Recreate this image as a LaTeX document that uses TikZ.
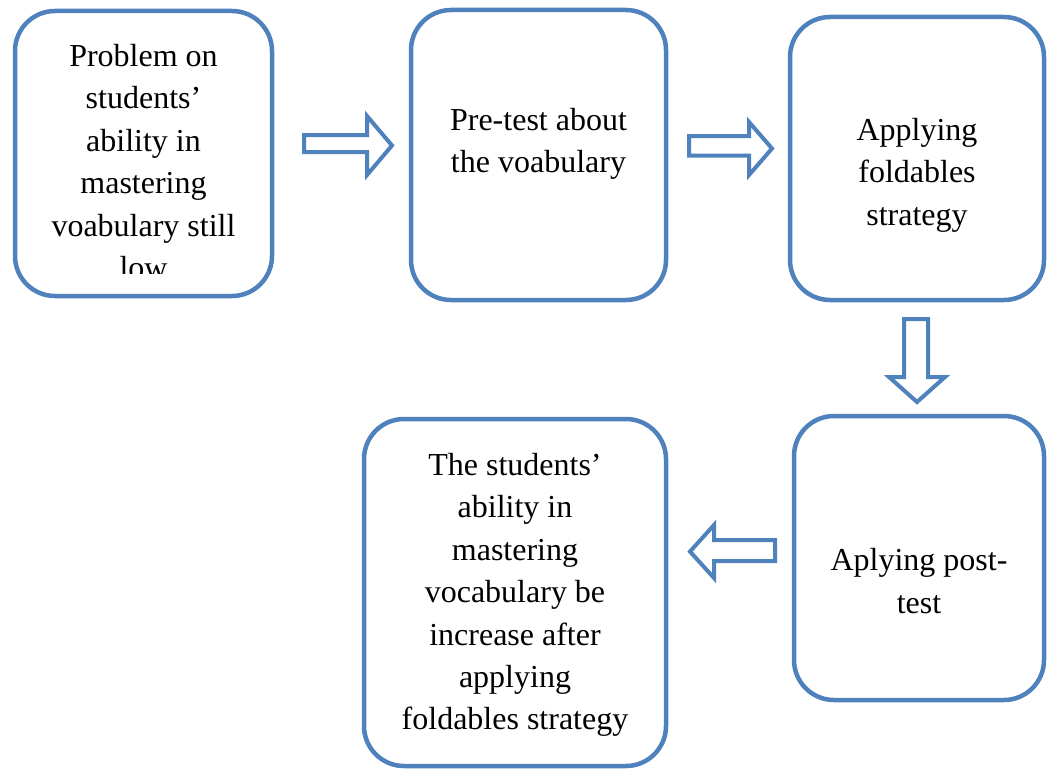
\documentclass[tikz,border=0pt]{standalone}
\usepackage{fontspec}
\setmainfont{Liberation Serif}
\definecolor{boxblue}{HTML}{4F81BD}
\begin{document}
\begin{tikzpicture}[x=1pt,y=-1pt,
  stepbox/.style={draw=boxblue, line width=4.5pt, rounded corners=40pt, fill=white, inner sep=0pt},
  label/.style={font=\fontsize{32}{42.4}\selectfont, align=center, inner sep=0pt},
  blockarrow/.style={draw=boxblue, line width=4pt, fill=white, line join=miter}]
\useasboundingbox (0,0) rectangle (1048,768);
% boxes
\node[stepbox, minimum width=257pt, minimum height=285pt] (b1) at (143.5,153.5) {};
\node[stepbox, minimum width=255pt, minimum height=290pt] (b2) at (538.5,155) {};
\node[stepbox, minimum width=254pt, minimum height=283pt] (b3) at (917,158.5) {};
\node[stepbox, minimum width=250pt, minimum height=284pt] (b4) at (919,558) {};
\node[stepbox, minimum width=302pt, minimum height=347pt] (b5) at (515,592.5) {};
% texts
\begin{scope}
\clip (15,12) rectangle (272,273);
\node[label] (t1) at (143.5,161.5) {Problem on\\students’\\ability in\\mastering\\voabulary still\\low};
\end{scope}
\node[label] (t2) at (538.5,144) {Pre-test about\\the voabulary};
\node[label] (t3) at (917,175) {Applying\\foldables\\strategy};
\node[label] (t4) at (919,581) {Aplying post-\\test};
\node[label] (t5) at (515,595) {The students’\\ability in\\mastering\\vocabulary be\\increase after\\applying\\foldables strategy};
% block arrows
\draw[blockarrow] (304,135) -- (367,135) -- (367,116) -- (392,145.5) -- (367,175) -- (367,152) -- (304,152) -- cycle;
\draw[blockarrow] (689,136) -- (749,136) -- (749,122) -- (772,148.5) -- (749,175) -- (749,155.5) -- (689,155.5) -- cycle;
\draw[blockarrow] (904,319) -- (904,377) -- (889,377) -- (917,402) -- (945,377) -- (928,377) -- (928,319) -- cycle;
\draw[blockarrow] (775,540) -- (714,540) -- (714,525) -- (690,551.5) -- (714,578) -- (714,561) -- (775,561) -- cycle;
\end{tikzpicture}
\end{document}
